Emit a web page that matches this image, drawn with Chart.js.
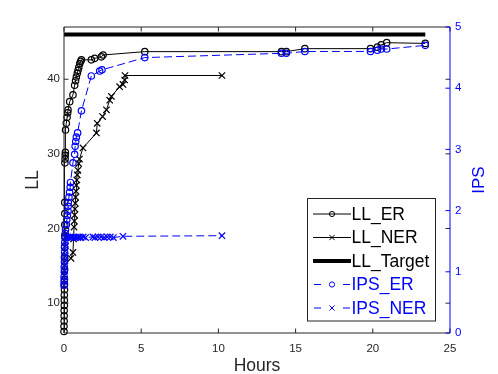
<!DOCTYPE html>
<html>
<head>
<meta charset="utf-8">
<script src="https://cdn.jsdelivr.net/npm/chart.js@4.4.0/dist/chart.umd.min.js"></script>
<style>
    html, body { margin: 0; padding: 0; background: #fff; }
    canvas { display: block; }
</style>
</head>
<body>
<canvas id="llChart" width="498" height="374"></canvas>
<script>
// data
const llErHours = [0.00, 0.00, 0.01, 0.01, 0.01, 0.02, 0.02, 0.02, 0.03, 0.03, 0.03, 0.04, 0.04, 0.04, 0.05, 0.05, 0.05, 0.05,
    0.06, 0.07, 0.08, 0.09, 0.10, 0.15, 0.20, 0.24, 0.26, 0.37, 0.58, 0.69, 0.75, 0.80, 0.86, 0.91, 0.96, 1.02, 1.08, 1.13,
    1.77, 1.99, 2.42, 2.53, 5.23, 14.08, 14.40, 15.60, 19.85, 20.30, 20.55, 20.90, 23.40];
const llErValues = [6.2, 6.9, 7.6, 8.3, 9.0, 9.7, 10.4, 11.1, 11.8, 12.5, 13.2, 14.5, 16.0, 17.5, 19.0, 20.5, 22.0, 23.5,
    28.8, 29.3, 29.8, 30.2, 33.2, 34.1, 34.9, 35.5, 35.9, 37.0, 37.9, 39.2, 39.8, 40.3, 40.8, 41.2, 41.6, 42.1, 42.4, 42.6,
    42.6, 42.8, 43.0, 43.25, 43.7, 43.7, 43.7, 44.1, 44.1, 44.3, 44.6, 44.9, 44.8];

const llNerHours = [0.45, 0.58, 0.62, 0.65, 0.67, 0.69, 0.71, 0.73, 0.75, 0.78, 0.80, 0.83, 0.86, 0.90, 0.95, 1.00, 1.23,
    2.10, 2.15, 2.50, 2.75, 2.96, 3.07, 3.60, 3.82, 3.93, 3.95, 10.23];
const llNerValues = [16.0, 16.8, 18.6, 20.2, 21.0, 21.8, 22.6, 23.4, 24.2, 25.0, 25.8, 26.5, 27.2, 27.8, 28.7, 29.3, 30.8,
    32.8, 34.1, 35.0, 35.9, 37.2, 37.7, 39.0, 39.3, 39.9, 40.5, 40.5];

const llTargetHours = [0, 23.4];
const llTargetValues = [46, 46];

const ipsErHours = [0.00, 0.01, 0.01, 0.02, 0.02, 0.03, 0.03, 0.04, 0.04, 0.05, 0.06, 0.08, 0.10, 0.15, 0.18, 0.22, 0.26,
    0.27, 0.28, 0.32, 0.36, 0.40, 0.42, 0.58, 0.69, 0.72, 0.76, 0.80, 0.88, 1.13, 1.77, 2.31, 2.46, 5.23, 14.08, 14.40,
    15.60, 19.85, 20.30, 20.55, 20.90, 23.40];
const ipsErValues = [0.78, 0.85, 0.92, 1.00, 1.08, 1.16, 1.24, 1.32, 1.40, 1.48, 1.56, 1.63, 1.69, 1.77, 1.85, 1.92, 1.99,
    2.07, 2.13, 2.22, 2.30, 2.38, 2.46, 2.78, 2.92, 3.05, 3.13, 3.20, 3.27, 3.63, 4.20, 4.28, 4.30, 4.50, 4.57, 4.57,
    4.60, 4.60, 4.62, 4.64, 4.64, 4.70];

const ipsNerHours = [0.00, 0.01, 0.02, 0.03, 0.04, 0.05, 0.06, 0.07, 0.08, 0.09, 0.12, 0.20, 0.30, 0.40, 0.50, 0.60, 0.70,
    0.80, 0.90, 1.00, 1.10, 1.25, 1.40, 1.87, 2.00, 2.20, 2.40, 2.60, 2.80, 3.00, 3.20, 3.82, 10.23];
const ipsNerValues = [0.78, 0.86, 0.94, 1.02, 1.10, 1.18, 1.26, 1.34, 1.42, 1.50, 1.56, 1.57, 1.56, 1.57, 1.56, 1.57, 1.56,
    1.57, 1.56, 1.57, 1.56, 1.57, 1.56, 1.57, 1.56, 1.57, 1.57, 1.56, 1.57, 1.57, 1.56, 1.58, 1.59];

const hourTicks = [0, 5, 10, 15, 20, 25];
const llTicks = [10, 20, 30, 40];
const ipsTicks = [0, 1, 2, 3, 4, 5];

const FONT = '"Liberation Sans", Arial, sans-serif';
const AXIS_GRAY = '#262626';
const BLUE = '#0000ff';

function toPoints(xs, ys) {
    return xs.map((x, i) => ({ x: x, y: ys[i] }));
}

const legendItems = [
    { label: 'LL_ER', color: '#000', marker: 'circle', dashed: false, width: 1 },
    { label: 'LL_NER', color: '#000', marker: 'cross', dashed: false, width: 1 },
    { label: 'LL_Target', color: '#000', marker: null, dashed: false, width: 4 },
    { label: 'IPS_ER', color: BLUE, marker: 'circle', dashed: true, width: 1 },
    { label: 'IPS_NER', color: BLUE, marker: 'cross', dashed: true, width: 1 }
];

function drawMarker(ctx, type, x, y, r) {
    ctx.beginPath();
    if (type === 'circle') {
        ctx.arc(x, y, r, 0, Math.PI * 2);
    } else {
        ctx.moveTo(x - r, y - r); ctx.lineTo(x + r, y + r);
        ctx.moveTo(x - r, y + r); ctx.lineTo(x + r, y - r);
    }
    ctx.stroke();
}

// box, inward ticks, right-hand label and legend, MATLAB style
const framePlugin = {
    id: 'frame',
    afterDraw(chart) {
        const ctx = chart.ctx;
        const area = chart.chartArea;
        const xs = chart.scales.x, yl = chart.scales.y, yr = chart.scales.y1;
        const tick = 4.5;
        ctx.save();
        ctx.lineWidth = 1;
        ctx.strokeStyle = AXIS_GRAY;
        ctx.beginPath();
        ctx.moveTo(area.left, area.top); ctx.lineTo(area.right, area.top);
        ctx.moveTo(area.left, area.top); ctx.lineTo(area.left, area.bottom);
        ctx.moveTo(area.left, area.bottom); ctx.lineTo(area.right, area.bottom);
        hourTicks.forEach(v => {
            const px = xs.getPixelForValue(v);
            ctx.moveTo(px, area.bottom); ctx.lineTo(px, area.bottom - tick);
            ctx.moveTo(px, area.top); ctx.lineTo(px, area.top + tick);
        });
        llTicks.forEach(v => {
            const py = yl.getPixelForValue(v);
            ctx.moveTo(area.left, py); ctx.lineTo(area.left + tick, py);
            ctx.moveTo(area.right, py); ctx.lineTo(area.right - tick, py);
        });
        ctx.stroke();

        ctx.strokeStyle = BLUE;
        ctx.beginPath();
        ctx.moveTo(area.right, area.top); ctx.lineTo(area.right, area.bottom);
        ipsTicks.forEach(v => {
            const py = yr.getPixelForValue(v);
            ctx.moveTo(area.right, py); ctx.lineTo(area.right - tick, py);
        });
        ctx.stroke();

        // right axis title reads bottom to top
        ctx.fillStyle = BLUE;
        ctx.font = '17px ' + FONT;
        ctx.textAlign = 'center';
        ctx.textBaseline = 'middle';
        ctx.translate(479.5, (area.top + area.bottom) / 2);
        ctx.rotate(-Math.PI / 2);
        ctx.fillText('IPS', 0, 0);
        ctx.setTransform(1, 0, 0, 1, 0, 0);

        // legend
        const box = { x: 307.5, y: 198.5, w: 128, h: 122.5 };
        ctx.fillStyle = '#fff';
        ctx.fillRect(box.x, box.y, box.w, box.h);
        ctx.strokeStyle = AXIS_GRAY;
        ctx.lineWidth = 1;
        ctx.strokeRect(box.x, box.y, box.w, box.h);
        ctx.font = '17.5px ' + FONT;
        ctx.textAlign = 'left';
        ctx.textBaseline = 'middle';
        legendItems.forEach((item, i) => {
            const y = 214 + i * 23.5;
            ctx.strokeStyle = item.color;
            ctx.lineWidth = item.width;
            ctx.beginPath();
            if (item.dashed) {
                ctx.moveTo(314, y); ctx.lineTo(321, y);
                ctx.moveTo(343, y); ctx.lineTo(350, y);
            } else {
                ctx.moveTo(313, y); ctx.lineTo(351, y);
            }
            ctx.stroke();
            ctx.lineWidth = 1;
            if (item.marker) drawMarker(ctx, item.marker, 332, y, 2.6);
            ctx.fillStyle = item.color;
            ctx.fillText(item.label, 351.5, y + 1);
        });
        ctx.restore();
    }
};

const ctx = document.getElementById('llChart');
new Chart(ctx, {
    type: 'line',
    data: {
        datasets: [
            {
                label: 'LL_ER',
                data: toPoints(llErHours, llErValues),
                yAxisID: 'y',
                borderColor: '#000',
                borderWidth: 1,
                pointStyle: 'circle',
                pointRadius: 3.2,
                pointBorderColor: '#000',
                pointBackgroundColor: 'rgba(0,0,0,0)',
                pointBorderWidth: 1.2,
                clip: false,
                order: 2
            },
            {
                label: 'LL_NER',
                data: toPoints(llNerHours, llNerValues),
                yAxisID: 'y',
                borderColor: '#000',
                borderWidth: 1,
                pointStyle: 'crossRot',
                pointRadius: 4.5,
                pointBorderColor: '#000',
                pointBorderWidth: 1.2,
                clip: false,
                order: 2
            },
            {
                label: 'LL_Target',
                data: toPoints(llTargetHours, llTargetValues),
                yAxisID: 'y',
                borderColor: '#000',
                borderWidth: 4,
                pointRadius: 0,
                clip: false,
                order: 2
            },
            {
                label: 'IPS_ER',
                data: toPoints(ipsErHours, ipsErValues),
                yAxisID: 'y1',
                borderColor: BLUE,
                borderWidth: 1,
                borderDash: [8, 4],
                pointStyle: 'circle',
                pointRadius: 3.2,
                pointBorderColor: BLUE,
                pointBackgroundColor: 'rgba(0,0,0,0)',
                pointBorderWidth: 1.2,
                clip: false,
                order: 1
            },
            {
                label: 'IPS_NER',
                data: toPoints(ipsNerHours, ipsNerValues),
                yAxisID: 'y1',
                borderColor: BLUE,
                borderWidth: 1,
                borderDash: [8, 4],
                pointStyle: 'crossRot',
                pointRadius: 4.5,
                pointBorderColor: BLUE,
                pointBorderWidth: 1.2,
                clip: false,
                order: 1
            }
        ]
    },
    options: {
        responsive: false,
        animation: false,
        layout: { padding: { top: 27, left: 0, right: 0, bottom: 0 } },
        plugins: { legend: { display: false }, tooltip: { enabled: false } },
        elements: { line: { tension: 0 } },
        scales: {
            x: {
                type: 'linear',
                min: 0,
                max: 25,
                afterBuildTicks: s => { s.ticks = hourTicks.map(v => ({ value: v })); },
                afterFit: s => { s.height = 41; },
                grid: { display: false, drawTicks: false },
                border: { display: false },
                ticks: { color: AXIS_GRAY, font: { family: FONT, size: 11.5 }, padding: 8.5, maxRotation: 0 },
                title: {
                    display: true, text: 'Hours', color: AXIS_GRAY,
                    font: { family: FONT, size: 17.5, lineHeight: 1 }, padding: { top: 0, bottom: -0.5 }
                }
            },
            y: {
                type: 'linear',
                position: 'left',
                min: 6,
                max: 47,
                afterBuildTicks: s => { s.ticks = llTicks.map(v => ({ value: v })); },
                afterFit: s => { s.width = 64; },
                grid: { display: false, drawTicks: false },
                border: { display: false },
                ticks: { color: AXIS_GRAY, font: { family: FONT, size: 11.5 }, padding: 4 },
                title: {
                    display: true, text: 'LL', color: AXIS_GRAY,
                    font: { family: FONT, size: 17.5, lineHeight: 1 }, padding: { top: 24.5, bottom: 0 }
                }
            },
            y1: {
                type: 'linear',
                position: 'right',
                min: 0,
                max: 5,
                afterBuildTicks: s => { s.ticks = ipsTicks.map(v => ({ value: v })); },
                afterFit: s => { s.width = 48; },
                grid: { display: false, drawTicks: false },
                border: { display: false },
                ticks: { color: BLUE, font: { family: FONT, size: 11.5 }, padding: 5 }
            }
        }
    },
    plugins: [framePlugin]
});
</script>
</body>
</html>
